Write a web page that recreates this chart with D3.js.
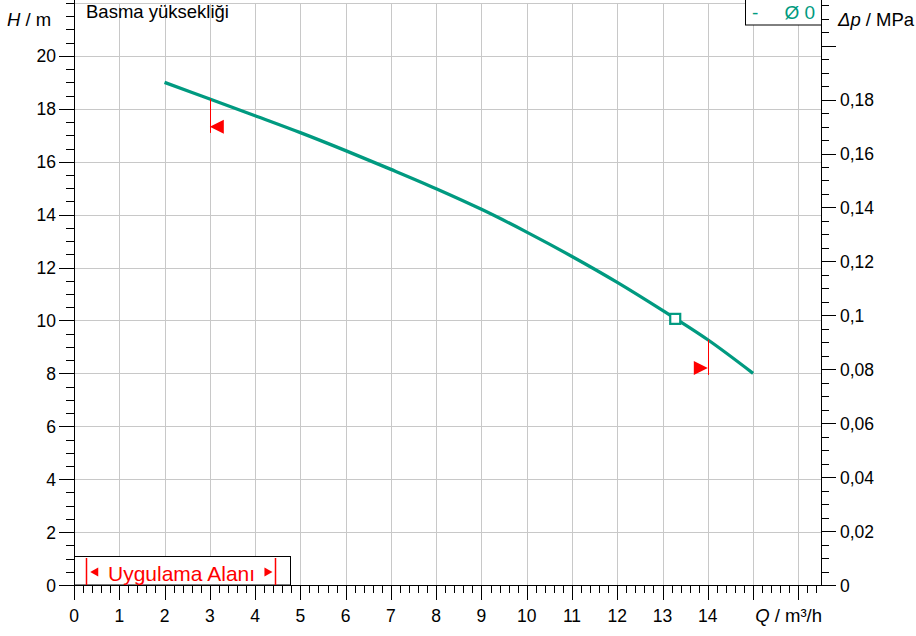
<!DOCTYPE html>
<html>
<head>
<meta charset="utf-8">
<script src="https://cdn.jsdelivr.net/npm/d3@7"></script>
<style>
  html, body { margin: 0; padding: 0; background: #fff; }
  svg { display: block; font-family: "Liberation Sans", Arial, sans-serif; }
</style>
</head>
<body>
<svg id="chart" width="916" height="636"></svg>
<script>
// ---- data ----
const flowQ = [2, 3, 4, 5, 6, 7, 8, 9, 10, 11, 12, 13, 14, 15];
const headH = [19.0, 18.37, 17.74, 17.1, 16.42, 15.71, 14.98, 14.2, 13.34, 12.42, 11.44, 10.38, 9.27, 8.0];
const dutyQ = [13.28];
const dutyH = [10.06];
const limitQ = [3, 14];
const limitTopH = [18.37, 9.27];
const limitBottomH = [17.09, 7.94];
const limitArrowH = [17.32, 8.2];
const rangeQ = [0.27, 4.45];
const xTickValues = [0, 1, 2, 3, 4, 5, 6, 7, 8, 9, 10, 11, 12, 13, 14];
const xTickLabels = ["0", "1", "2", "3", "4", "5", "6", "7", "8", "9", "10", "11", "12", "13", "14"];
const hTickValues = [0, 2, 4, 6, 8, 10, 12, 14, 16, 18, 20];
const hTickLabels = ["0", "2", "4", "6", "8", "10", "12", "14", "16", "18", "20"];
const dpTickValues = [0, 0.02, 0.04, 0.06, 0.08, 0.1, 0.12, 0.14, 0.16, 0.18];
const dpTickLabels = ["0", "0,02", "0,04", "0,06", "0,08", "0,1", "0,12", "0,14", "0,16", "0,18"];
const legendLabel = "Ø 0";
const rangeLabel = "Uygulama Alanı";
const titleLabel = "Basma yüksekliği";
const mPerMPa = 1 / 0.00981;

(function () {
// ---- layout ----
const svg = d3.select("#chart");
const pL = 74, pR = 821, pT = 3, pB = 585;
const x = d3.scaleLinear().domain([0, 16.5]).range([pL, pR]);
const y = d3.scaleLinear().domain([0, 22]).range([pB, pT]);
const yp = d3.scaleLinear().domain([0, 22 / mPerMPa]).range([pB, pT]);

const teal = "#009a80";
const red = "#ff0000";
const grid = "#c8c8c8";
const fontTick = 17.5;

// grid
const g = svg.append("g");
g.selectAll(".vg").data(d3.range(1, 17)).enter().append("line")
  .attr("x1", d => Math.round(x(d)) + 0.5).attr("x2", d => Math.round(x(d)) + 0.5)
  .attr("y1", pT).attr("y2", pB)
  .attr("stroke", grid).attr("stroke-width", 1);
g.selectAll(".hg").data(d3.range(2, 23, 2)).enter().append("line")
  .attr("x1", pL).attr("x2", pR)
  .attr("y1", d => Math.round(y(d)) + 0.5).attr("y2", d => Math.round(y(d)) + 0.5)
  .attr("stroke", grid).attr("stroke-width", 1);

// axes lines
svg.append("line").attr("x1", pL + 0.5).attr("x2", pL + 0.5).attr("y1", 0).attr("y2", pB + 0.5).attr("stroke", "#000");
svg.append("line").attr("x1", pR + 0.5).attr("x2", pR + 0.5).attr("y1", 0).attr("y2", pB + 0.5).attr("stroke", "#000");
svg.append("line").attr("x1", pL).attr("x2", pR + 1).attr("y1", pB + 0.5).attr("y2", pB + 0.5).attr("stroke", "#000");

// bottom ticks
const xMinor = d3.range(0, 83).map(i => i * 0.2).filter(v => v <= 16.45);
svg.selectAll(".xt").data(xMinor).enter().append("line")
  .attr("x1", d => Math.round(x(d)) + 0.5).attr("x2", d => Math.round(x(d)) + 0.5)
  .attr("y1", pB)
  .attr("y2", (d, i) => i % 5 === 0 ? pB + 15 : pB + 8)
  .attr("stroke", "#000");
svg.selectAll(".xl").data(xTickValues).enter().append("text")
  .attr("x", d => x(d)).attr("y", 622)
  .attr("text-anchor", "middle").attr("font-size", fontTick)
  .text((d, i) => xTickLabels[i]);

// left ticks
const hMinor = d3.range(0, 45).map(i => i * 0.5);
svg.selectAll(".ht").data(hMinor).enter().append("line")
  .attr("y1", d => Math.round(y(d)) + 0.5).attr("y2", d => Math.round(y(d)) + 0.5)
  .attr("x2", pL)
  .attr("x1", (d, i) => (i % 4 === 0 && d <= 20) ? pL - 15 : pL - 8)
  .attr("stroke", "#000");
svg.selectAll(".hl").data(hTickValues).enter().append("text")
  .attr("x", 56).attr("y", d => y(d) + 6.5)
  .attr("text-anchor", "end").attr("font-size", fontTick)
  .text((d, i) => hTickLabels[i]);

// right ticks
const pMinor = d3.range(0, 44).map(i => i * 0.005).filter(v => v <= 22 / mPerMPa);
svg.selectAll(".pt").data(pMinor).enter().append("line")
  .attr("y1", d => Math.round(yp(d)) + 0.5).attr("y2", d => Math.round(yp(d)) + 0.5)
  .attr("x1", pR)
  .attr("x2", (d, i) => i % 4 === 0 ? pR + 15 : pR + 8)
  .attr("stroke", "#000");
svg.selectAll(".pl").data(dpTickValues).enter().append("text")
  .attr("x", 840).attr("y", d => yp(d) + 6.5)
  .attr("font-size", fontTick)
  .text((d, i) => dpTickLabels[i]);

// axis titles
const th = svg.append("text").attr("x", 7).attr("y", 26).attr("font-size", 18.5);
th.append("tspan").attr("font-style", "italic").text("H");
th.append("tspan").text(" / m");
const tp = svg.append("text").attr("x", 838).attr("y", 26).attr("font-size", 18.5);
tp.append("tspan").attr("font-style", "italic").text("Δp");
tp.append("tspan").text(" / MPa");
const tq = svg.append("text").attr("x", 822).attr("y", 622).attr("text-anchor", "end").attr("font-size", 18.5);
tq.append("tspan").attr("font-style", "italic").text("Q");
tq.append("tspan").text(" / m³/h");
svg.append("text").attr("x", 86).attr("y", 18).attr("font-size", 18.5).text(titleLabel);

// curve
const pts = flowQ.map((q, i) => [q, headH[i]]);
svg.append("path").datum(pts)
  .attr("d", d3.line().x(d => x(d[0])).y(d => y(d[1])).curve(d3.curveCatmullRom.alpha(0.5)))
  .attr("fill", "none").attr("stroke", teal).attr("stroke-width", 3.3);

// limit markers
limitQ.forEach((q, i) => {
  const xx = Math.round(x(q)) + 0.5;
  svg.append("line").attr("x1", xx).attr("x2", xx)
    .attr("y1", y(limitTopH[i])).attr("y2", y(limitBottomH[i]))
    .attr("stroke", red).attr("stroke-width", 1);
  const ty = y(limitArrowH[i]);
  const tx = x(q);
  const dir = i === 0 ? 1 : -1;
  svg.append("path")
    .attr("d", `M${tx},${ty} L${tx + dir * 14},${ty - 7} L${tx + dir * 14},${ty + 7} Z`)
    .attr("fill", red);
});

// duty point
svg.selectAll(".dp").data(dutyQ).enter().append("rect")
  .attr("x", d => x(d) - 5).attr("y", (d, i) => y(dutyH[i]) - 5)
  .attr("width", 10).attr("height", 10)
  .attr("fill", "#fff").attr("stroke", teal).attr("stroke-width", 2.2);

// legend box
svg.append("rect").attr("x", 745.5).attr("y", -2).attr("width", pR - 745.5 + 0.5).attr("height", 27)
  .attr("fill", "#fff").attr("stroke", "#000").attr("stroke-width", 1);
svg.append("text").attr("x", 752).attr("y", 19).attr("font-size", 19).attr("fill", teal).text("-");
svg.append("text").attr("x", 815).attr("y", 19).attr("font-size", 19).attr("fill", teal)
  .attr("text-anchor", "end").text(legendLabel);

// application range box
svg.append("rect").attr("x", pL + 0.5).attr("y", 556.5).attr("width", 216).attr("height", 28.5)
  .attr("fill", "#fff").attr("stroke", "#000").attr("stroke-width", 1);
rangeQ.forEach((q, i) => {
  const xx = Math.round(x(q)) + 0.5;
  svg.append("line").attr("x1", xx).attr("x2", xx).attr("y1", 558).attr("y2", 585)
    .attr("stroke", red).attr("stroke-width", 1.5);
  const tx = i === 0 ? x(q) + 4 : x(q) - 3;
  const dir = i === 0 ? 1 : -1;
  svg.append("path")
    .attr("d", `M${tx},572 L${tx + dir * 8},567.5 L${tx + dir * 8},576.5 Z`)
    .attr("fill", red);
});
svg.append("text").attr("x", 108).attr("y", 580.5).attr("font-size", 21).attr("fill", red).text(rangeLabel);
})();
</script>
</body>
</html>
